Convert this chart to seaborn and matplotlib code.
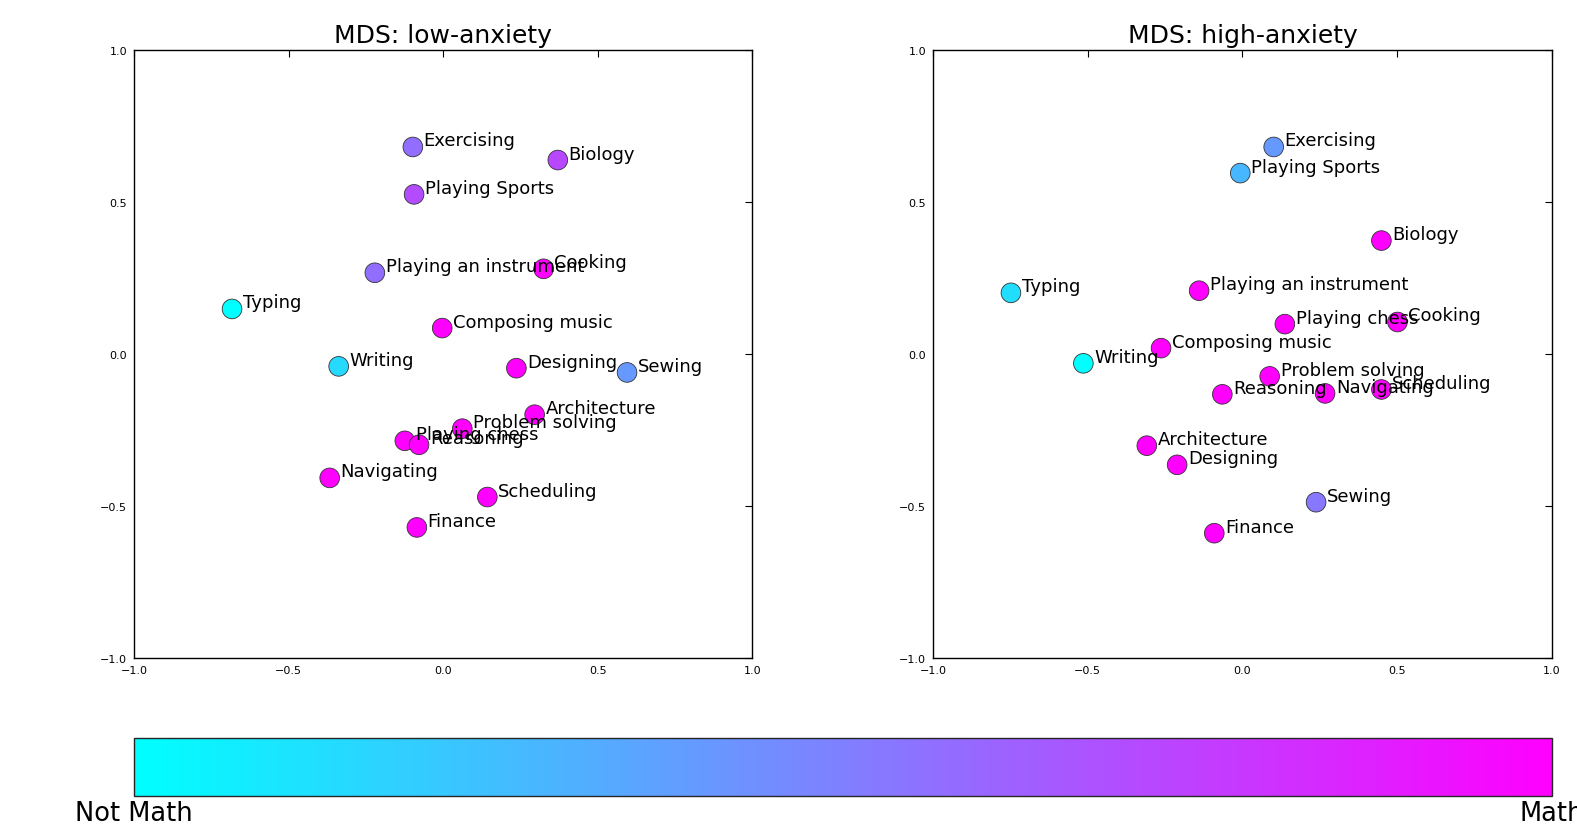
import numpy as np
import pandas as pd
import matplotlib
matplotlib.use("Agg")
import matplotlib.pyplot as plt
import matplotlib as mpl
import seaborn as sns

# ─── data ─────────────────────────────────────────────────────────────────────
activities = [
    "Exercising", "Biology", "Playing Sports", "Playing an instrument", "Cooking",
    "Typing", "Composing music", "Writing", "Designing", "Sewing",
    "Architecture", "Problem solving", "Playing chess", "Reasoning",
    "Navigating", "Scheduling", "Finance",
]

low_x = [-0.098, 0.371, -0.094, -0.221, 0.325, -0.683, -0.003, -0.338, 0.237, 0.595,
         0.296, 0.062, -0.124, -0.078, -0.367, 0.143, -0.085]
low_y = [0.682, 0.639, 0.526, 0.268, 0.281, 0.149, 0.086, -0.040, -0.046, -0.060,
         -0.199, -0.245, -0.285, -0.298, -0.407, -0.470, -0.570]
low_math = [0.57, 0.72, 0.70, 0.57, 1.0, 0.0, 1.0, 0.15, 1.0, 0.40,
            1.0, 1.0, 1.0, 1.0, 1.0, 1.0, 1.0]

high_x = [0.101, 0.449, -0.007, -0.140, 0.501, -0.748, -0.263, -0.514, -0.211, 0.238,
          -0.309, 0.088, 0.137, -0.065, 0.267, 0.449, -0.091]
high_y = [0.682, 0.374, 0.596, 0.209, 0.106, 0.202, 0.020, -0.030, -0.364, -0.487,
          -0.301, -0.073, 0.099, -0.132, -0.129, -0.116, -0.589]
high_math = [0.40, 1.0, 0.28, 1.0, 1.0, 0.13, 1.0, 0.0, 1.0, 0.53,
             1.0, 1.0, 1.0, 1.0, 1.0, 1.0, 1.0]

ticks = [-1.0, -0.5, 0.0, 0.5, 1.0]

sns.set_style("white")
plt.rcParams["font.family"] = ["DejaVu Sans"]
plt.rcParams["text.color"] = "black"
plt.rcParams["axes.labelcolor"] = "black"

fig = plt.figure(figsize=(15.77, 8.28), dpi=100)
ax_low = fig.add_axes([0.085, 0.204, 0.392, 0.734])
ax_high = fig.add_axes([0.5916, 0.204, 0.3925, 0.734])
cax = fig.add_axes([0.085, 0.0374, 0.899, 0.070])


def mds_panel(ax, xs, ys, vals, title):
    df = pd.DataFrame({"x": xs, "y": ys, "math": vals, "name": activities})
    sns.scatterplot(data=df, x="x", y="y", hue="math", palette="cool",
                    hue_norm=(0, 1), s=200, edgecolor="#333333", linewidth=0.6,
                    legend=False, ax=ax, zorder=3)
    for _, r in df.iterrows():
        ax.text(r.x + 0.035, r.y + 0.005, r["name"], fontsize=13,
                color="black", zorder=4)
    ax.set_xlim(-1, 1)
    ax.set_ylim(-1, 1)
    ax.set_xticks(ticks)
    ax.set_yticks(ticks)
    ax.set_xlabel("")
    ax.set_ylabel("")
    ax.set_title(title, fontsize=18, pad=6, color="black")
    ax.tick_params(direction="in", length=5, width=0.8, top=True, right=True,
                   labelsize=8, colors="black", pad=5)
    for sp in ax.spines.values():
        sp.set_edgecolor("black")
        sp.set_linewidth(1.0)


mds_panel(ax_low, low_x, low_y, low_math, "MDS: low-anxiety")
mds_panel(ax_high, high_x, high_y, high_math, "MDS: high-anxiety")

cb = mpl.colorbar.ColorbarBase(cax, cmap=plt.get_cmap("cool"), orientation="horizontal")
cb.set_ticks([])
cb.outline.set_linewidth(1.0)
fig.text(0.085, 0.033, "Not Math", ha="center", va="top", fontsize=18.5, color="black")
fig.text(0.984, 0.033, "Math", ha="center", va="top", fontsize=18.5, color="black")

fig.savefig("out.png", dpi=100)
